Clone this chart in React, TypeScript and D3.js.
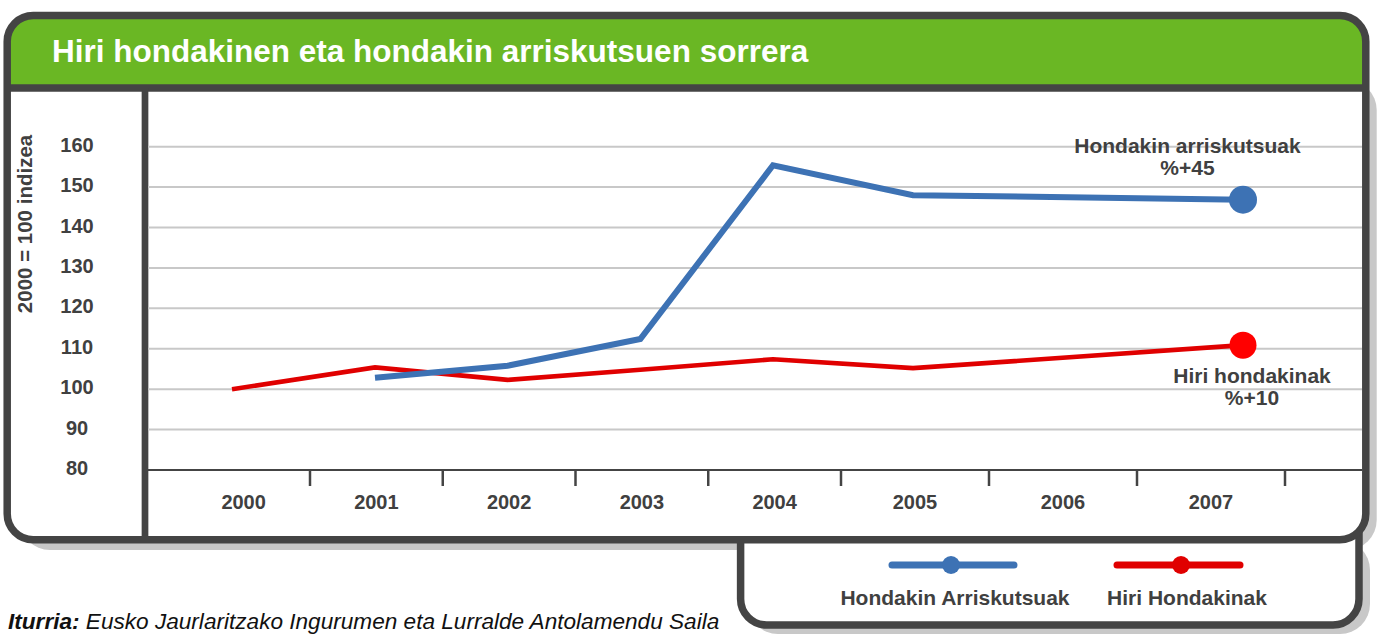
import React from 'react'
import * as d3 from 'd3'

// years on the axis and the two index series (2000 = 100)
const axisYears = [2000, 2001, 2002, 2003, 2004, 2005, 2006, 2007]
const hazardousYears = [2001, 2002, 2003, 2004, 2005, 2007]
const hazardousIndex = [102.8, 105.8, 112.4, 155.4, 148.0, 146.9]
const urbanYears = [2000, 2001, 2002, 2003, 2004, 2005, 2007]
const urbanIndex = [100, 105.4, 102.3, 104.8, 107.4, 105.2, 110.9]
const yTicks = [80, 90, 100, 110, 120, 130, 140, 150, 160]

const title = 'Hiri hondakinen eta hondakin arriskutsuen sorrera'
const yTitle = '2000 = 100 indizea'
const hazardousName = 'Hondakin Arriskutsuak'
const urbanName = 'Hiri Hondakinak'
const hazardousNote = ['Hondakin arriskutsuak', '%+45']
const urbanNote = ['Hiri hondakinak', '%+10']

const BLUE = '#3d72b4'
const RED = '#e00000'
const DARK = '#444444'
const TEXT = '#404040'
const GREEN = '#6ab724'
const SHADOW = '#c8c8c8'
const FONT = '"Liberation Sans", Arial, Helvetica, sans-serif'

export default function App() {
  const width = 1378
  const height = 634

  const y = d3.scaleLinear().domain([80, 160]).range([470, 146.7])
  // the axis ticks sit between the years, spacing widens to the right like the original
  const xAxis = d3.scaleLinear().domain([2000.5, 2004.5, 2007.5]).range([310, 841, 1285])
  const xData = d3.scaleLinear().domain([2000, 2001, 2004, 2005, 2007]).range([232, 375, 773, 913, 1243])

  const line = d3.line<[number, number]>()
    .x(d => xData(d[0]))
    .y(d => y(d[1]))

  const hazardous: [number, number][] = hazardousYears.map((yr, i) => [yr, hazardousIndex[i]])
  const urban: [number, number][] = urbanYears.map((yr, i) => [yr, urbanIndex[i]])
  const hLast = hazardous[hazardous.length - 1]
  const uLast = urban[urban.length - 1]

  const frame = { x: 7.2, y: 15.5, w: 1358.6, h: 524.2, r: 26 }
  const plotLeft = 148
  const plotRight = 1362

  return (
    <svg width={width} height={height} style={{ position: 'absolute', left: 0, top: 0 }}
      fontFamily={FONT}>
      <defs>
        <clipPath id="frameClip">
          <rect x={frame.x} y={frame.y} width={frame.w} height={frame.h} rx={frame.r} />
        </clipPath>
      </defs>

      {/* shadows */}
      <rect x={20} y={80} width={1356.7} height={470} rx={30} fill={SHADOW} />
      <rect x={748} y={540} width={622} height={94} rx={30} fill={SHADOW} />

      {/* legend box, its top hidden under the main frame */}
      <rect x={740.6} y={480} width={618.4} height={145} rx={26}
        fill="#fff" stroke={DARK} strokeWidth={7.5} />

      {/* main frame */}
      <rect x={frame.x} y={frame.y} width={frame.w} height={frame.h} rx={frame.r} fill="#fff" />
      <rect x={0} y={0} width={width} height={88} fill={GREEN} clipPath="url(#frameClip)" />
      <line x1={frame.x} x2={frame.x + frame.w} y1={88} y2={88} stroke={DARK} strokeWidth={7.4} />
      <line x1={145} x2={145} y1={88} y2={frame.y + frame.h} stroke={DARK} strokeWidth={6.7} />
      <text x={52} y={61.7} fill="#fff" fontSize={31.5} fontWeight="bold">{title}</text>

      {/* grid */}
      {yTicks.filter(t => t > 80).map(t => (
        <line key={t} x1={plotLeft} x2={plotRight} y1={y(t)} y2={y(t)} stroke={SHADOW} strokeWidth={2} />
      ))}
      <line x1={plotLeft} x2={plotRight} y1={y(80)} y2={y(80)} stroke={DARK} strokeWidth={2.2} />

      {/* y axis */}
      {yTicks.map(t => (
        <text key={t} x={77} y={y(t) + 5} textAnchor="middle" fontSize={20} fontWeight="bold" fill={TEXT}>{t}</text>
      ))}
      <text transform="translate(32,224) rotate(-90)" textAnchor="middle" fontSize={20.5}
        fontWeight="bold" fill={TEXT}>{yTitle}</text>

      {/* x axis */}
      {axisYears.map(yr => (
        <g key={yr}>
          <line x1={xAxis(yr + 0.5)} x2={xAxis(yr + 0.5)} y1={y(80)} y2={486} stroke={DARK} strokeWidth={2.5} />
          <text x={xAxis(yr)} y={509} textAnchor="middle" fontSize={20} fontWeight="bold" fill={TEXT}>{yr}</text>
        </g>
      ))}

      {/* series */}
      <path d={line(urban) ?? ''} fill="none" stroke={RED} strokeWidth={4.6} />
      <path d={line(hazardous) ?? ''} fill="none" stroke={BLUE} strokeWidth={6} />
      <circle cx={xData(uLast[0])} cy={y(uLast[1])} r={13.5} fill="#ff0000" />
      <circle cx={xData(hLast[0])} cy={y(hLast[1])} r={14} fill={BLUE} />

      {/* notes */}
      {hazardousNote.map((s, i) => (
        <text key={s} x={1187.5} y={153 + i * 22} textAnchor="middle" fontSize={21} fontWeight="bold" fill={TEXT}>{s}</text>
      ))}
      {urbanNote.map((s, i) => (
        <text key={s} x={1252} y={383 + i * 22} textAnchor="middle" fontSize={21} fontWeight="bold" fill={TEXT}>{s}</text>
      ))}

      {/* frame stroke on top */}
      <rect x={frame.x} y={frame.y} width={frame.w} height={frame.h} rx={frame.r}
        fill="none" stroke={DARK} strokeWidth={7.5} />

      {/* legend */}
      <line x1={892} x2={1014} y1={565} y2={565} stroke={BLUE} strokeWidth={7} strokeLinecap="round" />
      <circle cx={951} cy={565} r={9} fill={BLUE} />
      <text x={955} y={605} textAnchor="middle" fontSize={21} fontWeight="bold" fill={TEXT}>{hazardousName}</text>
      <line x1={1117} x2={1240} y1={565} y2={565} stroke={RED} strokeWidth={7} strokeLinecap="round" />
      <circle cx={1181} cy={565} r={9} fill={RED} />
      <text x={1187} y={605} textAnchor="middle" fontSize={21} fontWeight="bold" fill={TEXT}>{urbanName}</text>

      {/* source */}
      <text x={8} y={629} fontSize={22.6} fontStyle="italic" fill="#111">
        <tspan fontWeight="bold">Iturria:</tspan> Eusko Jaurlaritzako Ingurumen eta Lurralde Antolamendu Saila
      </text>
    </svg>
  )
}
